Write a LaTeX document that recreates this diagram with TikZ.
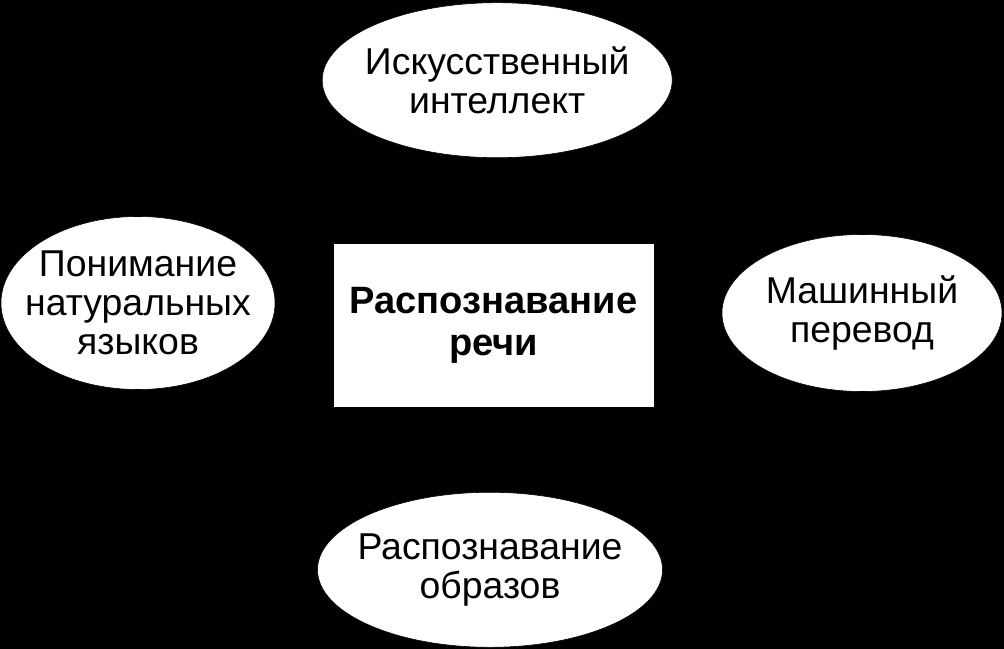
\documentclass[tikz,border=0pt]{standalone}
\usepackage{fontspec}
\setmainfont{Liberation Sans}
\usetikzlibrary{shapes.geometric,positioning}

\begin{document}
\begin{tikzpicture}[
    bubble/.style={ellipse, fill=white, draw=black, inner xsep=-0.6cm, inner ysep=-0.2cm, align=center, font=\fontsize{26.6}{27.6}\selectfont},
    box/.style={rectangle, fill=white, draw=black, inner sep=0pt, minimum width=8.025cm, minimum height=4.1cm, align=center, font=\fontsize{27.1}{30}\selectfont\bfseries},
]
    \fill[black] (0,0) rectangle (25.1,16.225);
    \useasboundingbox (0,0) rectangle (25.1,16.225);

    \node[box] (speech) at (12.34,8.1) {Распознавание\\речи};

    \node[bubble, minimum width=8.75cm, minimum height=3.875cm] (ai) at (12.43,14.22) {Искусственный\\интеллект};
    \node[bubble, minimum width=6.85cm, minimum height=4.325cm] (nlu) at (3.45,8.65) {Понимание\\натуральных\\языков};
    \node[bubble, minimum width=7.0cm, minimum height=3.925cm] (mt) at (21.55,8.4) {Машинный\\перевод};
    \node[bubble, minimum width=8.625cm, minimum height=3.875cm] (images) at (12.25,1.98) {Распознавание\\образов};
\end{tikzpicture}
\end{document}
